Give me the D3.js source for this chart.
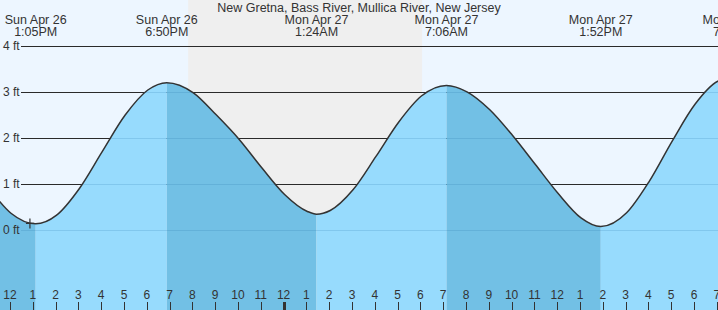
<!DOCTYPE html>
<html>
<head>
<meta charset="utf-8">
<script src="https://cdn.jsdelivr.net/npm/d3@7"></script>
<style>
  html, body { margin: 0; padding: 0; background: #fff; }
  svg { display: block; font-family: "Liberation Sans", Arial, sans-serif; }
</style>
</head>
<body>
<svg id="chart" width="718" height="310"></svg>
<script>
// ---- DATA (hours after 12:00 PM Sun Apr 26) ----
const title = "New Gretna, Bass River, Mullica River, New Jersey";
const tideHours   = [-1, 0, 1.083, 2, 3, 4, 5, 6, 6.833, 8, 9, 10, 11, 12, 13, 13.4, 14, 15, 16, 17, 18, 19.1, 20, 21, 22, 23, 24, 25, 25.867, 27, 28, 29, 30, 31, 31.733, 32.5];
const tideHeights = [0.94, 0.37, 0.14, 0.33, 0.91, 1.71, 2.50, 3.05, 3.21, 2.99, 2.51, 1.98, 1.36, 0.78, 0.41, 0.35, 0.43, 0.88, 1.60, 2.35, 2.92, 3.15, 3.01, 2.62, 2.06, 1.43, 0.80, 0.27, 0.08, 0.38, 1.07, 1.94, 2.74, 3.24, 3.33, 3.27];
const extremeHours = [1.083, 6.833, 13.4, 19.1, 25.867, 31.733];
const extremeDays  = ["Sun Apr 26", "Sun Apr 26", "Mon Apr 27", "Mon Apr 27", "Mon Apr 27", "Mon Apr 27"];
const extremeTimes = ["1:05PM", "6:50PM", "1:24AM", "7:06AM", "1:52PM", "7:44PM"];
const nightStart = 7.77, nightEnd = 18.03;   // sunset / sunrise
const nowHour = 0.83, nowHeight = 0.15;
const yTicks = [0, 1, 2, 3, 4];
const yTickLabels = ["0 ft", "1 ft", "2 ft", "3 ft", "4 ft"];
const hourTicks = d3.range(0, 32);
const hourLabels = hourTicks.map(h => String(((h + 11) % 12) + 1));

// ---- SCALES ----
const W = 718, H = 310;
const x = d3.scaleLinear().domain([0, 31]).range([11, 11 + 22.8 * 31]);
const y = d3.scaleLinear().domain([0, 4]).range([230.3, 46.3]);

const svg = d3.select("#chart");
const tide = tideHours.map((t, i) => ({ t, h: tideHeights[i] }));

// sky + night
svg.append("rect").attr("x", 0).attr("y", 0).attr("width", W).attr("height", H).attr("fill", "#edf6ff");
svg.append("rect").attr("x", x(nightStart)).attr("y", 0)
  .attr("width", x(nightEnd) - x(nightStart)).attr("height", H).attr("fill", "#efefef");

// grid lines (sky)
svg.append("g").selectAll("line").data(yTicks.filter(v => v > 0)).join("line")
  .attr("x1", 21).attr("x2", W).attr("y1", d => Math.round(y(d)) + 0.5).attr("y2", d => Math.round(y(d)) + 0.5)
  .attr("stroke", "#2a2a2a").attr("stroke-width", 1);

// water
const area = d3.area().x(d => x(d.t)).y0(H).y1(d => y(d.h)).curve(d3.curveMonotoneX);
const line = d3.line().x(d => x(d.t)).y(d => y(d.h)).curve(d3.curveMonotoneX);

svg.append("clipPath").attr("id", "water").append("path").datum(tide).attr("d", area);
const wg = svg.append("g").attr("clip-path", "url(#water)");
const bandEdges = [x.invert(0) - 1].concat(extremeHours.slice(0, 5)).concat([x.invert(W) + 1]);
const bands = d3.range(bandEdges.length - 1).map(i => ({ a: bandEdges[i], b: bandEdges[i + 1], dark: i % 2 === 0 }));
wg.selectAll("rect").data(bands).join("rect")
  .attr("x", d => x(d.a)).attr("width", d => x(d.b) - x(d.a))
  .attr("y", 0).attr("height", H)
  .attr("fill", d => d.dark ? "#72c0e5" : "#97dbfd");
// grid lines under water
wg.append("g").selectAll("line").data(yTicks).join("line")
  .attr("x1", 21).attr("x2", W).attr("y1", d => Math.round(y(d)) + 0.5).attr("y2", d => Math.round(y(d)) + 0.5)
  .attr("stroke", "#1f6fa8").attr("stroke-opacity", 0.18).attr("stroke-width", 1);

// tide curve
svg.append("path").datum(tide).attr("d", line)
  .attr("fill", "none").attr("stroke", "#333").attr("stroke-width", 1.5);

// now marker
svg.append("path")
  .attr("d", `M${x(nowHour) - 4},${y(nowHeight)}h8M${x(nowHour)},${y(nowHeight) - 5}v10`)
  .attr("stroke", "#333").attr("stroke-width", 1.2).attr("fill", "none");

// y labels
svg.append("g").selectAll("text").data(yTicks).join("text")
  .attr("x", 3).attr("y", d => y(d) + 4)
  .attr("font-size", 12).attr("fill", "#333")
  .text((d, i) => yTickLabels[i]);

// title
svg.append("text").attr("x", 359).attr("y", 12).attr("text-anchor", "middle")
  .attr("font-size", 12.5).attr("fill", "#333").text(title);

// extreme labels
const el = svg.append("g").selectAll("g").data(extremeHours).join("g")
  .attr("transform", d => `translate(${x(d)},0)`);
el.append("text").attr("y", 24).attr("text-anchor", "middle").attr("font-size", 12.5).attr("fill", "#333")
  .text((d, i) => extremeDays[i]);
el.append("text").attr("y", 36).attr("text-anchor", "middle").attr("font-size", 12.5).attr("fill", "#333")
  .text((d, i) => extremeTimes[i]);

// hour axis
const ax = svg.append("g");
ax.selectAll("line").data(hourTicks).join("line")
  .attr("x1", d => Math.round(x(d)) - 0.5).attr("x2", d => Math.round(x(d)) - 0.5)
  .attr("y1", 302).attr("y2", H)
  .attr("stroke", "#333").attr("stroke-width", d => d === 12 ? 3 : 1);
ax.selectAll("text").data(hourTicks).join("text")
  .attr("x", d => x(d) - 1).attr("y", 299).attr("text-anchor", "middle")
  .attr("font-size", 12).attr("fill", "#333")
  .text((d, i) => hourLabels[i]);
</script>
</body>
</html>
